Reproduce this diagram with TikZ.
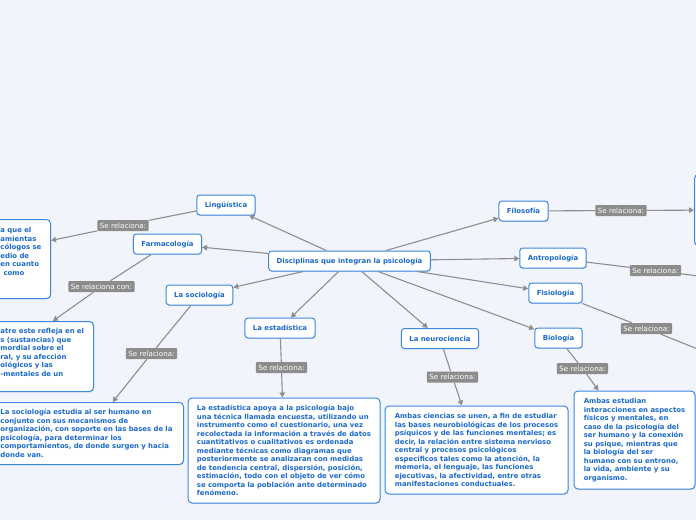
\documentclass[tikz,border=0pt]{standalone}
\usepackage{fontspec}
\setmainfont{DejaVu Sans}
\usetikzlibrary{arrows.meta,shadows}
\definecolor{fondo}{HTML}{F2F4FC}
\definecolor{azul}{HTML}{1B6AC9}
\definecolor{borde}{HTML}{3A88DE}
\definecolor{gris}{HTML}{8C8C8C}
\definecolor{linea}{HTML}{8E8E8E}

\begin{document}
\begin{tikzpicture}[x=1pt,y=-1pt,
  topic/.style={draw=borde,line width=1pt,fill=white,rounded corners=3pt,text=azul,
    font=\fontsize{6.9}{8.5}\selectfont\bfseries,minimum height=20pt,inner xsep=8pt,
    drop shadow={shadow xshift=.6pt,shadow yshift=-.9pt,opacity=.2}},
  desc/.style={topic,align=left,inner xsep=6pt,rounded corners=4pt},
  rel/.style={fill=gris,text=white,rounded corners=1pt,font=\fontsize{7.1}{8}\selectfont,
    minimum height=11pt,inner xsep=2.5pt,inner ysep=0pt},
  link/.style={draw=linea,line width=1.1pt,-{Triangle[length=5pt,width=5.5pt]}}]
  \useasboundingbox (0,0) rectangle (696,520);
  \clip (0,0) rectangle (696,520);
  \fill[fondo] (0,0) rectangle (696,520);

  \node[topic] (central) at (349.5,261) {Disciplinas que integran la psicología};
  \node[topic] (ling) at (226,205) {Lingüística};
  \node[topic] (farm) at (167.5,244) {Farmacología};
  \node[topic] (soc) at (199.5,295) {La sociología};
  \node[topic] (est) at (280,328) {La estadística};
  \node[topic] (neuro) at (440,338.5) {La neurociencia};
  \node[topic] (bio) at (558.5,338) {Biología};
  \node[topic] (fisio) at (555.5,293) {Fisiología};
  \node[topic] (antro) at (553,258) {Antropología};
  \node[topic] (filo) at (523.5,211) {Filosofía};

  \node[desc,anchor=north west,text width=44pt,inner ysep=8pt,text height=5.2pt,text depth=57.8pt] (lingDesc) at (-6,219)
    {a que el\\amientas\\cólogos se\\edio de\\en cuanto\\\hspace*{3pt}como};
  \node[desc,anchor=north west,text width=87pt,inner ysep=7pt,text height=5.2pt,text depth=50.8pt] (farmDesc) at (-6,321)
    {atre este refleja en el\\s (sustancias) que\\mordial sobre el\\ral, y su afección\\ológicos y las\\-mentales de un};
  \node[desc,anchor=north west,text width=177pt,minimum height=62pt] (socDesc) at (-6,402)
    {La sociología estudia al ser humano en\\conjunto con sus mecanismos de\\organización, con soporte en las bases de la\\psicología, para determinar los\\comportamientos, de donde surgen y hacia\\donde van.};
  \node[desc,minimum width=192pt,minimum height=105pt] (estDesc) at (284,450.5)
    {La estadística apoya a la psicología bajo\\una técnica llamada encuesta, utilizando un\\instrumento como el cuestionario, una vez\\recolectada la información a través de datos\\cuantitativos o cualitativos es ordenada\\mediante técnicas como diagramas que\\posteriormente se analizaran con medidas\\de tendencia central, dispersión, posición,\\estimación, todo con el objeto de ver cómo\\se comporta la población ante determinado\\fenómeno.};
  \node[desc,minimum width=183pt,minimum height=88pt] (neuroDesc) at (476.5,450)
    {Ambas ciencias se unen, a fin de estudiar\\las bases neurobiológicas de los procesos\\psíquicos y de las funciones mentales; es\\decir, la relación entre sistema nervioso\\central y procesos psicológicos\\específicos tales como la atención, la\\memoria, el lenguaje, las funciones\\ejecutivas, la afectividad, entre otras\\manifestaciones conductuales.};
  \node[desc,minimum width=121pt,minimum height=98pt] (bioDesc) at (634.5,440)
    {Ambas estudian\\interacciones en aspectos\\físicos y mentales, en\\caso de la psicología del\\ser humano y la conexión\\su psique, mientras que\\la biología del ser\\humano con su entrono,\\la vida, ambiente y su\\organismo.};
  \node[desc,anchor=north west,minimum width=60pt,minimum height=71pt] (filoDesc) at (694,174) {};
  \coordinate (antroEnd) at (760,284);
  \coordinate (fisioEnd) at (760,374);

  \node[rel] (lingRel) at (123,225.5) {Se relaciona:};
  \node[rel] (farmRel) at (101.5,286.5) {Se relaciona con:};
  \node[rel] (socRel) at (151.5,353.5) {Se relaciona:};
  \node[rel] (estRel) at (281.5,367.5) {Se relaciona:};
  \node[rel] (neuroRel) at (452.5,377) {Se relaciona:};
  \node[rel] (bioRel) at (582.5,368.5) {Se relaciona:};
  \node[rel] (filoRel) at (621,210.5) {Se relaciona:};
  \node[rel] (antroRel) at (655.5,270.5) {Se relaciona:};
  \node[rel] (fisioRel) at (646.5,328.5) {Se relaciona:};

  \draw[link] (central) -- (ling);
  \draw[link] (central) -- (farm);
  \draw[link] (central) -- (soc);
  \draw[link] (central) -- (est);
  \draw[link] (central) -- (neuro);
  \draw[link] (central) -- (bio);
  \draw[link] (central) -- (fisio);
  \draw[link] (central) -- (antro);
  \draw[link] (central) -- (filo);

  \draw[link] (ling) -- (lingRel) -- (lingDesc.33);
  \draw[link] (farm) -- (farmRel) -- (farmDesc.76);
  \draw[link] (soc) -- (socRel) -- (socDesc.53);
  \draw[link] (est) -- (estRel) -- (estDesc);
  \draw[link] (neuro) -- (neuroRel) -- (neuroDesc);
  \draw[link] (bio) -- (bioRel) -- (bioDesc);
  \draw[link] (filo) -- (filoRel) -- (filoDesc);
  \draw[link] (antro) -- (antroRel) -- (antroEnd);
  \draw[link] (fisio) -- (fisioRel) -- (fisioEnd);
\end{tikzpicture}
\end{document}
